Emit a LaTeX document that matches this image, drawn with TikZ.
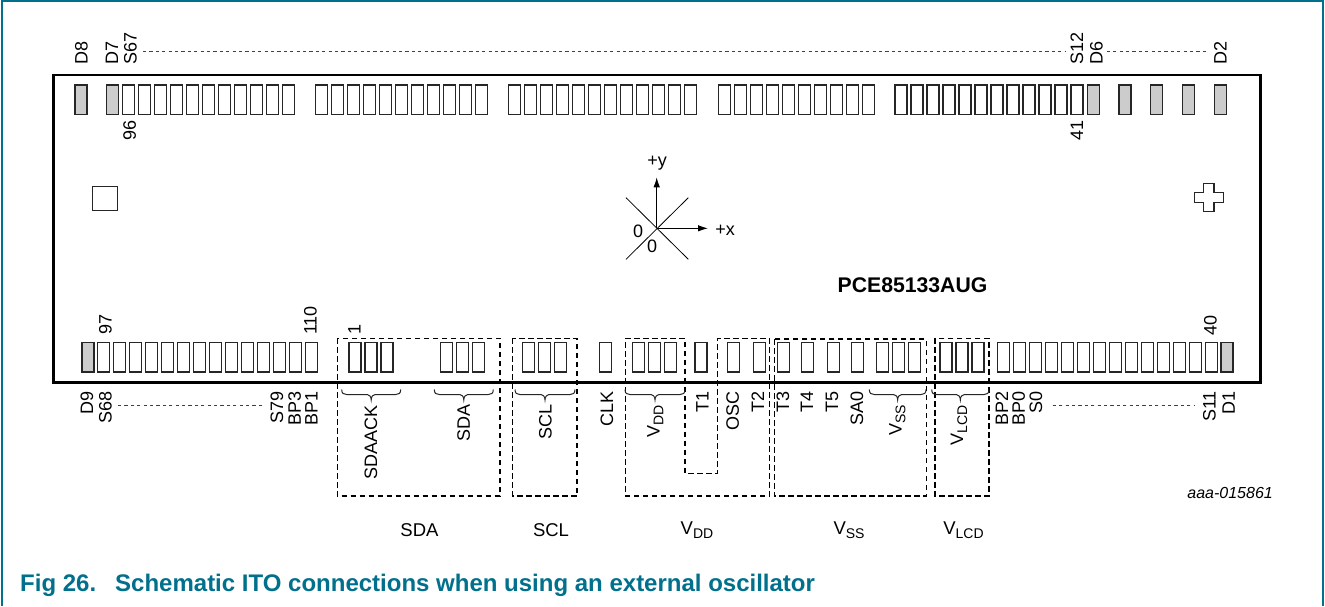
\documentclass[tikz,border=0pt]{standalone}
\usepackage{fontspec}
\usetikzlibrary{arrows.meta}
\setmainfont{Liberation Sans}
\definecolor{teal1}{RGB}{0,112,140}
\definecolor{padgray}{RGB}{204,204,204}
\newcommand{\padsz}[1]{\fontsize{#1}{#1}\selectfont}
\newcommand{\vsub}[1]{V\raisebox{-.22em}{\padsz{14}#1}}
\tikzset{
 x=1pt,y=-1pt,
 padbox/.style={draw=black!85,line width=1.1pt,fill=white},
 graypad/.style={draw=black!85,line width=1.1pt,fill=padgray},
 chip/.style={draw=black,line width=2.8pt},
 grp/.style={draw=black,line width=1.4pt,dash pattern=on 5.5pt off 3.5pt},
 dotl/.style={draw=black!75,line width=.7pt,dash pattern=on 3.2pt off 3.2pt},
 brc/.style={draw=black!85,line width=1pt},
 lab/.style={font=\padsz{18},inner sep=0pt,text height=13pt,text depth=0pt},
 rtop/.style={lab,rotate=90,anchor=west},
 rbot/.style={lab,rotate=90,anchor=east},
 hlab/.style={font=\padsz{18},inner sep=0pt},
 vlab/.style={font=\padsz{18.5},inner sep=0pt,anchor=base},
}
\newcommand{\pad}[3]{\draw[#3] (#1,#2) rectangle ++(12,29.5);}
\newcommand{\padrow}[4]{\foreach \i in {1,...,#2}{\pgfmathsetmacro{\xx}{#1+16*(\i-1)}\draw[padbox] (\xx,#3) rectangle ++(12,#4);}}
\newcommand{\bracex}[3]{\pgfmathsetmacro{\mm}{(#1+#2)/2}
 \draw[brc] (#1,#3) .. controls (#1,#3+4) and (#1+2,#3+5) .. (#1+5,#3+5) -- (\mm-4,#3+5) .. controls (\mm-2,#3+5) and (\mm,#3+7) .. (\mm,#3+10.5) .. controls (\mm,#3+7) and (\mm+2,#3+5) .. (\mm+4,#3+5) -- (#2-5,#3+5) .. controls (#2-2,#3+5) and (#2,#3+4) .. (#2,#3);}
\begin{document}
\begin{tikzpicture}
\useasboundingbox (0,0) rectangle (1325,606);
\fill[white] (0,0) rectangle (1325,606);
\draw[teal1,line width=1.3pt] (2,606) -- (2,1) -- (1323,1) -- (1323,606);
\draw[chip] (53.5,75) rectangle (1260.7,382.3);
% top pads
\foreach \xa in {75,106.7,1087.3,1119,1150.7,1182.7,1214.3}{\pad{\xa}{85}{graypad}}
\padrow{122.7}{11}{85}{29.5}
\padrow{315.7}{11}{85}{29.5}
\padrow{508.3}{12}{85}{29.5}
\padrow{718.3}{10}{85}{29.5}
\padrow{895}{12}{85}{29.5}
% bottom pads
\foreach \xa in {82,1221}{\draw[graypad] (\xa,342.5) rectangle ++(12,29.5);}
\padrow{97.3}{14}{342.5}{29.5}
\padrow{349}{3}{342.5}{29.5}
\padrow{440.7}{3}{342.5}{29.5}
\padrow{522.7}{3}{342.5}{29.5}
\padrow{599.3}{1}{342.5}{29.5}
\padrow{632.3}{3}{342.5}{29.5}
\padrow{695}{1}{342.5}{29.5}
\padrow{727.7}{1}{342.5}{29.5}
\padrow{753.3}{1}{342.5}{29.5}
\padrow{777.3}{1}{342.5}{29.5}
\padrow{801.7}{1}{342.5}{29.5}
\padrow{827.3}{1}{342.5}{29.5}
\padrow{851.7}{1}{342.5}{29.5}
\padrow{876.7}{3}{342.5}{29.5}
\padrow{940}{3}{342.5}{29.5}
\padrow{997.3}{14}{342.5}{29.5}
% dashed groups
\draw[grp] (337.3,338.3) rectangle (500,496);
\draw[grp] (512.7,338.3) rectangle (577,496);
\draw[grp] (625.3,338.3) -- (685,338.3) -- (685,473.3) -- (717.7,473.3) -- (717.7,338.3) -- (769.3,338.3) -- (769.3,496) -- (625.3,496) -- cycle;
\draw[grp] (774.3,339) rectangle (926.3,496);
\draw[grp] (935,338.3) rectangle (989,496);
% braces
\bracex{341.7}{400.7}{389.5}
\bracex{434.3}{493.3}{389.5}
\bracex{515}{575}{389.5}
\bracex{625}{685}{389.5}
\bracex{869.3}{926}{389.5}
\bracex{931.7}{989}{389.5}
% top labels
\node[rtop] (s67) at (130,65) {S67};
\node[rtop] (s12) at (1076.7,65) {S12};
\node[rtop] (d6) at (1096,65) {D6};
\node[rtop] (d2) at (1220,65) {D2};
\coordinate (t1) at (143,51.7); \coordinate (t2) at (1066,51.7);
\coordinate (t3) at (1106.7,51.7); \coordinate (t4) at (1208,51.7);
\coordinate (b1) at (118,405.7); \coordinate (b2) at (265,405.7);
\coordinate (b3) at (1052.7,405.7); \coordinate (b4) at (1195,405.7);
\draw[dotl] (t1) -- (t2);
\draw[dotl] (t3) -- (t4);
\draw[dotl] (b1) -- (b2);
\draw[dotl] (b3) -- (b4);
\node[rtop] (d8) at (81,65) {D8};
\node[rtop] (d7) at (111.7,65) {D7};
\node[rbot] (n96) at (129.3,120) {96};
\node[rbot] (n41) at (1076.7,120.7) {41};
\node[rtop] (n97) at (105,335) {97};
\node[rtop] (n110) at (310,335) {110};
\node[rtop] (n1) at (354,335) {1};
\node[rtop] (n40) at (1210,336) {40};
% bottom labels
\foreach \xa/\tx in {86.7/D9,105/S68,276.7/S79,294.3/BP3,311/BP1,606.7/CLK,702/T1,732.3/OSC,757.7/T2,782.7/T3,806.7/T4,831.7/T5,856.7/SA0,1001.7/BP2,1018.3/BP0,1035.7/S0,1209/S11,1228.3/D1}
 {\node[rbot] at (\xa,391) {\tx};}
\node[rbot] (l1) at (370.7,405) {SDAACK};
\node[rbot] (l2) at (463.3,404) {SDA};
\node[rbot] (l3) at (545,404) {SCL};
\node[rbot] (l4) at (653,405) {\vsub{DD}};
\node[rbot] (l5) at (895,405) {\vsub{SS}};
\node[rbot] (l6) at (956.7,405) {\vsub{LCD}};
% group names
\node[vlab] (g1) at (419.5,536.5) {SDA};
\node[vlab] (g2) at (551,536.5) {SCL};
\node[vlab] (g3) at (697,534) {\vsub{DD}};
\node[vlab] (g4) at (849,534) {\vsub{SS}};
\node[vlab] (g5) at (963.5,534) {\vsub{LCD}};
\node[font=\padsz{16}\itshape,inner sep=0pt,anchor=east] (ref) at (1273,492.7) {aaa-015861};
\node[font=\padsz{21.2}\bfseries,inner sep=0pt] (part) at (912.5,285) {PCE85133AUG};
% axes
\coordinate (o) at (656.7,228.3);
\coordinate (yy) at (656.7,177.3);
\coordinate (xx) at (708,228.3);
\draw[line width=.8pt] (626,197.7) -- (688.3,259.3);
\draw[line width=.8pt] (626,259.3) -- (688.3,197.7);
\draw[line width=1pt,-{Latex[length=10pt,width=6.5pt]}] (o) -- (yy);
\draw[line width=1pt,-{Latex[length=10pt,width=6.5pt]}] (o) -- (xx);
\node[hlab] (py) at (657,163) {+y};
\node[hlab] (px) at (725,230) {+x};
\node[hlab] (z1) at (638,231) {0};
\node[hlab] (z2) at (652,246.5) {0};
% fiducials
\draw[line width=1pt,draw=black!85] (92,186) rectangle (117,210);
\draw[line width=1.2pt,draw=black!85] (1203.3,183.3) -- (1214,183.3) -- (1214,192.3) -- (1223.3,192.3) -- (1223.3,202.7) -- (1214,202.7) -- (1214,211.7) -- (1203.3,211.7) -- (1203.3,202.7) -- (1194.3,202.7) -- (1194.3,192.3) -- (1203.3,192.3) -- cycle;
% caption
\node[font=\padsz{24}\bfseries,text=teal1,anchor=west,inner sep=0pt] (cap) at (20,585) {Fig 26.\hspace{19pt}Schematic ITO connections when using an external oscillator};
\end{tikzpicture}
\end{document}
